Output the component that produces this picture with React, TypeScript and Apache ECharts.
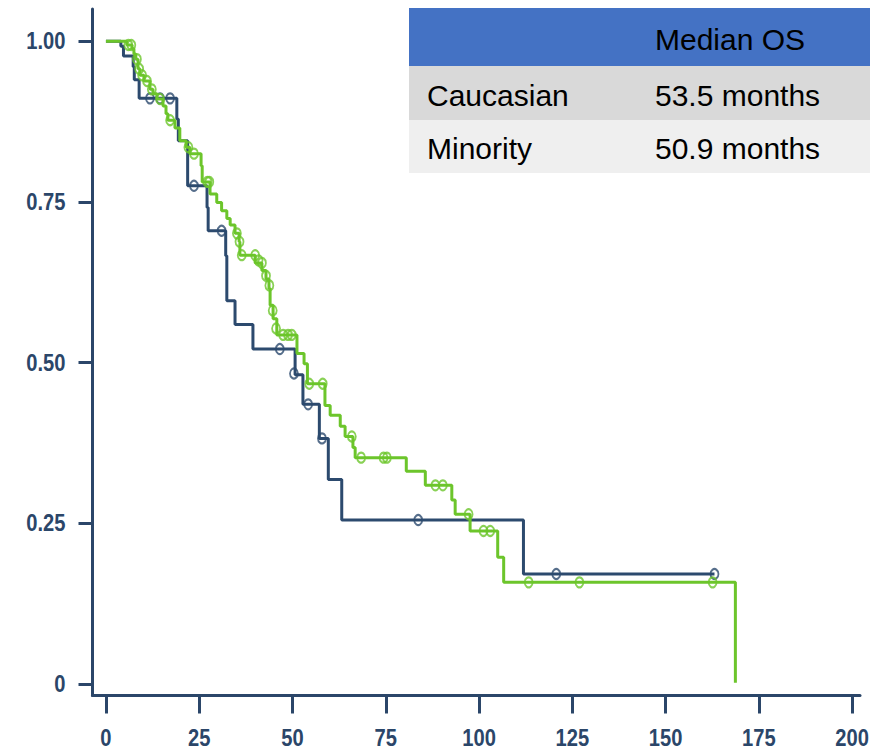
import React, { useEffect, useRef } from "react";
import * as echarts from "echarts";

// Kaplan-Meier steps: time (months) where the curve drops, and the new survival level
const caucasianTimes = [0, 4.0, 4.7, 7.3, 7.6, 8.9, 19.0, 19.4, 21.9, 27.1, 27.4, 32.1, 32.4, 34.6, 39.4, 50.7, 52.8, 57.2, 59.6, 63.2, 111.9, 163.1];
const caucasianSurv = [1, 0.992, 0.977, 0.96, 0.94, 0.911, 0.879, 0.845, 0.775, 0.741, 0.705, 0.666, 0.596, 0.559, 0.521, 0.481, 0.435, 0.382, 0.318, 0.255, 0.171, 0.171];
const caucasianCensorTimes = [11.8, 14.5, 17.2, 23.6, 31.0, 46.6, 50.4, 54.2, 57.9, 83.7, 120.7, 163.1];
const caucasianCensorSurv = [0.911, 0.911, 0.911, 0.775, 0.705, 0.521, 0.483, 0.435, 0.382, 0.255, 0.171, 0.171];

const minorityTimes = [0, 5.6, 7.0, 7.5, 8.0, 8.6, 9.1, 10.2, 11.8, 12.6, 13.7, 15.3, 16.1, 16.6, 18.5, 19.8, 21.5, 22.5, 25.5, 25.8, 27.9, 29.7, 31.0, 32.4, 33.3, 34.6, 35.7, 35.9, 40.0, 41.8, 42.9, 43.7, 44.0, 44.8, 45.8, 51.2, 53.1, 54.0, 58.7, 60.1, 62.8, 64.1, 66.2, 66.8, 80.5, 85.6, 92.7, 93.6, 97.6, 105.0, 106.6, 168.7, 168.7];
const minoritySurv = [1, 0.994, 0.988, 0.98, 0.972, 0.957, 0.947, 0.938, 0.925, 0.918, 0.91, 0.899, 0.887, 0.877, 0.865, 0.845, 0.835, 0.825, 0.806, 0.781, 0.762, 0.749, 0.736, 0.724, 0.714, 0.701, 0.688, 0.667, 0.655, 0.643, 0.63, 0.615, 0.589, 0.568, 0.543, 0.514, 0.498, 0.467, 0.433, 0.418, 0.401, 0.385, 0.368, 0.352, 0.331, 0.309, 0.286, 0.264, 0.238, 0.197, 0.158, 0.158, 0.002];
const minorityCensorTimes = [6.0, 6.8, 8.3, 8.9, 9.7, 11.0, 12.3, 14.5, 17.2, 22.1, 23.6, 27.2, 27.7, 35.1, 35.8, 36.4, 40.0, 40.9, 41.8, 42.9, 43.8, 44.7, 45.6, 47.5, 48.8, 49.8, 54.5, 58.1, 65.9, 68.4, 74.4, 75.3, 88.3, 90.3, 97.2, 101.2, 103.0, 113.3, 126.9, 162.6];
const minorityCensorSurv = [0.994, 0.994, 0.972, 0.957, 0.947, 0.938, 0.925, 0.91, 0.877, 0.835, 0.825, 0.781, 0.781, 0.701, 0.688, 0.667, 0.667, 0.659, 0.655, 0.635, 0.62, 0.581, 0.553, 0.543, 0.543, 0.543, 0.467, 0.467, 0.385, 0.352, 0.352, 0.352, 0.309, 0.309, 0.264, 0.238, 0.238, 0.158, 0.158, 0.158];

const xTicks = [0, 25, 50, 75, 100, 125, 150, 175, 200];
const yTicks = [0, 0.25, 0.5, 0.75, 1];
const xTickLabels = ["0", "25", "50", "75", "100", "125", "150", "175", "200"];
const yTickLabels = ["0", "0.25", "0.50", "0.75", "1.00"];

const tableHeader = ["", "Median OS"];
const tableRows = [
  ["Caucasian", "53.5 months"],
  ["Minority", "50.9 months"],
];

const NAVY = "#2C4A6E";
const GREEN = "#6CC52B";
const AXIS = "#2B4669";

const X_MIN = -3.6;
const X_MAX = 202.1;
const Y_MIN = -0.018;
const Y_MAX = 1.05;

const zip = (a: number[], b: number[]) => a.map((v, i) => [v, b[i]]);

export default function App() {
  const ref = useRef<HTMLDivElement>(null);
  useEffect(() => {
    document.body.style.margin = "0";
    document.body.style.overflow = "hidden";
    const chart = echarts.init(ref.current!, null, { renderer: "svg" });
    const labelFont = "bold 24px 'Liberation Sans', Arial, sans-serif";
    const tableFont = "30px 'Liberation Sans', Arial, sans-serif";
    const rowTops = [8, 66, 120];
    const rowHeights = [58, 54, 53];
    const rowColors = ["#4472C4", "#D9D9D9", "#EFEFEF"];
    const allRows = [tableHeader, ...tableRows];
    const tableGraphics: any[] = [];
    allRows.forEach((row, i) => {
      tableGraphics.push({
        type: "rect",
        shape: { x: 409, y: rowTops[i], width: 461, height: rowHeights[i] },
        style: { fill: rowColors[i] },
        z: 10,
      });
      row.forEach((txt, j) => {
        if (!txt) return;
        tableGraphics.push({
          type: "text",
          x: j === 0 ? 427 : 655,
          y: rowTops[i] + rowHeights[i] / 2 + 2,
          style: {
            text: txt,
            fill: "#000",
            font: tableFont,
            textVerticalAlign: "middle",
            textAlign: "left",
          },
          z: 11,
        });
      });
    });

    chart.setOption({
      animation: false,
      grid: { left: 92.5, right: 13, top: 9, bottom: 54.5, containLabel: false },
      xAxis: {
        type: "value",
        min: X_MIN,
        max: X_MAX,
        axisLine: { onZero: false, lineStyle: { color: AXIS, width: 3 } },
        axisTick: { customValues: xTicks, length: 18, lineStyle: { color: AXIS, width: 3 } },
        axisLabel: { show: false },
        splitLine: { show: false },
      },
      yAxis: {
        type: "value",
        min: Y_MIN,
        max: Y_MAX,
        axisLine: { show: true, onZero: false, lineStyle: { color: AXIS, width: 3 } },
        axisTick: { show: true, customValues: yTicks, length: 14, lineStyle: { color: AXIS, width: 3 } },
        axisLabel: { show: false },
        splitLine: { show: false },
      },
      series: [
        {
          name: "Caucasian",
          type: "line",
          step: "end",
          data: zip(caucasianTimes, caucasianSurv),
          showSymbol: false,
          lineStyle: { color: NAVY, width: 3 },
          z: 2,
        },
        {
          name: "Caucasian censored",
          type: "scatter",
          data: zip(caucasianCensorTimes, caucasianCensorSurv),
          symbol: "circle",
          symbolSize: [8, 10],
          itemStyle: { color: "rgba(0,0,0,0)", borderColor: NAVY, borderWidth: 2 },
          z: 3,
        },
        {
          name: "Minority",
          type: "line",
          step: "end",
          data: zip(minorityTimes, minoritySurv),
          showSymbol: false,
          lineStyle: { color: GREEN, width: 3 },
          z: 4,
        },
        {
          name: "Minority censored",
          type: "scatter",
          data: zip(minorityCensorTimes, minorityCensorSurv),
          symbol: "circle",
          symbolSize: [8, 10],
          itemStyle: { color: "rgba(0,0,0,0)", borderColor: GREEN, borderWidth: 2 },
          z: 5,
        },
      ],
      graphic: tableGraphics,
    });

    // Tick labels in a narrow bold face, placed through the chart's own axis scales
    const labelGraphics: any[] = [];
    const axisOrigin = chart.convertToPixel({ gridIndex: 0 }, [X_MIN, Y_MIN]) as number[];
    xTicks.forEach((v, i) => {
      const p = chart.convertToPixel({ gridIndex: 0 }, [v, Y_MIN]) as number[];
      labelGraphics.push({
        type: "text",
        x: p[0],
        y: axisOrigin[1] + 42,
        scaleX: 0.84,
        style: {
          text: xTickLabels[i],
          fill: AXIS,
          font: labelFont,
          lineHeight: 18,
          textAlign: "center",
          textVerticalAlign: "middle",
        },
        z: 6,
      });
    });
    yTicks.forEach((v, i) => {
      const p = chart.convertToPixel({ gridIndex: 0 }, [X_MIN, v]) as number[];
      labelGraphics.push({
        type: "text",
        x: axisOrigin[0] - 27,
        y: p[1],
        scaleX: 0.84,
        style: {
          text: yTickLabels[i],
          fill: AXIS,
          font: labelFont,
          lineHeight: 18,
          textAlign: "right",
          textVerticalAlign: "middle",
        },
        z: 6,
      });
    });
    chart.setOption({ graphic: [...tableGraphics, ...labelGraphics] });

    return () => chart.dispose();
  }, []);
  return <div ref={ref} style={{ width: 873, height: 750 }} />;
}
